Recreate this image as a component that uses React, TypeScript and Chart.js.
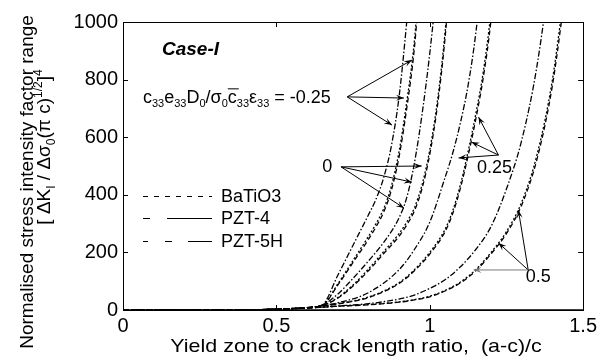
import React, { useEffect, useRef } from "react";
import { Chart, registerables } from "chart.js";
Chart.register(...registerables);

// ---- axis ticks ----
const xTicks = [0, 0.5, 1, 1.5];
const yTicks = [0, 200, 400, 600, 800, 1000];

// ---- curves, parameter c33e33D0/(sigma0 c33 eps33) ----
// -0.25
const xM025 = [0, 0.4, 0.5, 0.6, 0.65, 0.7, 0.75, 0.8, 0.825, 0.85, 0.875, 0.9, 0.925, 0.95, 0.975];
const pzt4M025 = [0, 0, 3, 8, 18, 120, 225, 330, 385, 460, 570, 740, 1000, 1300, 1700];
const batio3M025 = [0, 0, 3, 8, 16, 90, 172, 255, 300, 352, 430, 550, 722, 935, 1270];
const pzt5hM025 = [0, 0, 3, 8, 16, 86, 165, 245, 289, 340, 416, 532, 700, 910, 1240];
// 0
const x0 = [0, 0.4, 0.5, 0.6, 0.65, 0.7, 0.75, 0.8, 0.85, 0.9, 0.925, 0.95, 0.975, 1.0, 1.025, 1.05, 1.075];
const pzt40 = [0, 0, 3, 8, 17, 55, 110, 170, 235, 320, 390, 510, 680, 890, 1150, 1450, 1850];
const batio30 = [0, 0, 3, 8, 16, 43, 87, 142, 203, 265, 305, 355, 435, 555, 725, 965, 1300];
const pzt5h0 = [0, 0, 3, 8, 16, 41, 83, 136, 196, 256, 295, 344, 422, 540, 708, 945, 1270];
// 0.25
const xP025 = [0, 0.4, 0.5, 0.6, 0.65, 0.7, 0.8, 0.9, 0.95, 1.0, 1.05, 1.075, 1.1, 1.125, 1.15, 1.175, 1.2, 1.225];
const pzt4P025 = [0, 0, 3, 8, 15, 25, 60, 140, 210, 305, 460, 545, 650, 780, 960, 1220, 1600, 2000];
const batio3P025 = [0, 0, 3, 8, 14, 22, 45, 95, 140, 200, 280, 345, 435, 550, 680, 830, 1040, 1350];
const pzt5hP025 = [0, 0, 3, 8, 14, 21, 43, 92, 136, 194, 272, 335, 423, 535, 662, 810, 1010, 1320];
// 0.5
const xP05 = [0, 0.4, 0.5, 0.6, 0.7, 0.8, 0.9, 0.95, 1.0, 1.05, 1.1, 1.15, 1.2, 1.25, 1.3, 1.35, 1.4, 1.45];
const pzt4P05 = [0, 0, 3, 7, 14, 22, 38, 52, 75, 105, 150, 210, 290, 420, 590, 850, 1250, 1800];
const batio3P05 = [0, 0, 3, 7, 13, 19, 28, 36, 48, 68, 97, 140, 200, 272, 375, 540, 800, 1200];
const pzt5hP05 = [0, 0, 3, 7, 13, 18, 27, 35, 46, 66, 94, 136, 195, 265, 365, 525, 780, 1170];

const materials = ["BaTiO3", "PZT-4", "PZT-5H"];
const dashBaTiO3 = [2, 2];
const dashPZT4 = [6, 2, 1.5, 2];
const dashPZT5H = [5, 3];

// annotation label positions (data units)
const caseLabel = { x: 0.127, y: 903 };
const formulaPos = { x: 0.065, y: 740 };
const labelM025 = { from: [0.731, 740], to: [[0.942, 868], [0.916, 736], [0.877, 642]] };
const label0 = { text: "0", at: [0.666, 497], from: [0.711, 497], to: [[0.974, 500], [0.942, 444], [0.916, 354]] };
const labelP025 = { text: "0.25", at: [1.211, 493], from: [1.224, 538], to: [[1.159, 670], [1.136, 583], [1.094, 528]] };
const labelP05 = { text: "0.5", at: [1.354, 115], from: [1.321, 139], to: [[1.289, 347], [1.224, 233], [1.143, 139]] };

const FONT = '"Liberation Sans", Arial, Helvetica, sans-serif';

function mk(xs: number[], ys: number[], dash: number[], label: string) {
  return {
    label,
    data: xs.map((x, i) => ({ x, y: ys[i] })),
    borderColor: "#000",
    borderWidth: 1.3,
    borderDash: dash,
    pointRadius: 0,
    fill: false,
    cubicInterpolationMode: "monotone" as const,
  };
}

type Seg = { t: string; s: number; dy: number; over?: boolean };

function drawRich(ctx: CanvasRenderingContext2D, segs: Seg[], x: number, y: number) {
  let cx = x;
  for (const g of segs) {
    ctx.font = `${g.s}px ${FONT}`;
    ctx.fillText(g.t, cx, y + g.dy);
    const w = ctx.measureText(g.t).width;
    if (g.over) {
      ctx.beginPath();
      ctx.lineWidth = 1;
      ctx.moveTo(cx, y - g.s * 0.78);
      ctx.lineTo(cx + w + 2, y - g.s * 0.78);
      ctx.stroke();
    }
    cx += w;
  }
  return cx - x;
}
function richWidth(ctx: CanvasRenderingContext2D, segs: Seg[]) {
  let w = 0;
  for (const g of segs) {
    ctx.font = `${g.s}px ${FONT}`;
    w += ctx.measureText(g.t).width;
  }
  return w;
}

function arrow(ctx: CanvasRenderingContext2D, x1: number, y1: number, x2: number, y2: number, color = "#000") {
  ctx.save();
  ctx.strokeStyle = color;
  ctx.fillStyle = color;
  ctx.lineWidth = 1;
  ctx.setLineDash([]);
  ctx.beginPath();
  ctx.moveTo(x1, y1);
  ctx.lineTo(x2, y2);
  ctx.stroke();
  const a = Math.atan2(y2 - y1, x2 - x1);
  const L = 8, W = 3;
  ctx.beginPath();
  ctx.moveTo(x2, y2);
  ctx.lineTo(x2 - L * Math.cos(a) + W * Math.sin(a), y2 - L * Math.sin(a) - W * Math.cos(a));
  ctx.lineTo(x2 - L * 0.6 * Math.cos(a), y2 - L * 0.6 * Math.sin(a));
  ctx.lineTo(x2 - L * Math.cos(a) - W * Math.sin(a), y2 - L * Math.sin(a) + W * Math.cos(a));
  ctx.closePath();
  ctx.fill();
  ctx.restore();
}

const decor = {
  id: "decor",
  afterDraw(chart: any) {
    const ctx: CanvasRenderingContext2D = chart.ctx;
    const { left, right, top, bottom } = chart.chartArea;
    const xs = chart.scales.x, ys = chart.scales.y;
    const px = (v: number) => xs.getPixelForValue(v);
    const py = (v: number) => ys.getPixelForValue(v);
    ctx.save();
    ctx.strokeStyle = "#000";
    ctx.fillStyle = "#000";
    ctx.setLineDash([]);
    // frame
    ctx.lineWidth = 1;
    ctx.strokeRect(Math.round(left) + 0.5, Math.round(top) + 0.5, Math.round(right - left), Math.round(bottom - top));
    ctx.lineWidth = 1.5;
    ctx.beginPath();
    ctx.moveTo(left, bottom);
    ctx.lineTo(right, bottom);
    ctx.stroke();
    // inner ticks
    ctx.lineWidth = 1;
    ctx.beginPath();
    for (const v of xTicks.slice(1, -1)) {
      const x = Math.round(px(v)) + 0.5;
      ctx.moveTo(x, bottom);
      ctx.lineTo(x, bottom - 5);
      ctx.moveTo(x, top);
      ctx.lineTo(x, top + 5);
    }
    for (const v of yTicks.slice(1, -1)) {
      const y = Math.round(py(v)) + 0.5;
      ctx.moveTo(left, y);
      ctx.lineTo(left + 5, y);
      ctx.moveTo(right, y);
      ctx.lineTo(right - 5, y);
    }
    ctx.stroke();

    // axis titles
    ctx.textBaseline = "alphabetic";
    ctx.save();
    ctx.font = `19px ${FONT}`;
    ctx.translate(356, 352);
    ctx.scale(1.13, 1);
    ctx.textAlign = "center";
    ctx.fillText("Yield zone to crack length ratio,  (a-c)/c", 0, 0);
    ctx.restore();

    ctx.save();
    ctx.translate(33, 182);
    ctx.rotate(-Math.PI / 2);
    ctx.font = `19px ${FONT}`;
    ctx.textAlign = "center";
    ctx.fillText("Normalised stress intensity factor range", 0, 0);
    ctx.restore();

    const yl: Seg[] = [
      { t: "[ \u0394K", s: 19, dy: 0 },
      { t: "I", s: 12, dy: 5 },
      { t: " / \u0394\u03c3", s: 19, dy: 0 },
      { t: "0", s: 12, dy: 5 },
      { t: "(\u03c0 c)", s: 19, dy: 0 },
      { t: "1/2", s: 12, dy: -8 },
      { t: "]", s: 19, dy: 0 },
      { t: "4", s: 12, dy: -8 },
    ];
    ctx.save();
    ctx.translate(50, 147);
    ctx.rotate(-Math.PI / 2);
    ctx.textAlign = "left";
    const w2 = richWidth(ctx, yl);
    drawRich(ctx, yl, -w2 / 2, 0);
    ctx.restore();

    // Case-I
    ctx.font = `italic bold 19px ${FONT}`;
    ctx.textAlign = "left";
    ctx.textBaseline = "middle";
    ctx.fillText("Case-I", px(caseLabel.x), py(caseLabel.y));

    // formula
    ctx.textBaseline = "alphabetic";
    const f: Seg[] = [
      { t: "c", s: 18, dy: 0 },
      { t: "33", s: 11, dy: 4 },
      { t: "e", s: 18, dy: 0 },
      { t: "33", s: 11, dy: 4 },
      { t: "D", s: 18, dy: 0 },
      { t: "0", s: 11, dy: 4 },
      { t: "/\u03c3", s: 18, dy: 0 },
      { t: "0", s: 11, dy: 4 },
      { t: "c", s: 18, dy: 0, over: true },
      { t: "33", s: 11, dy: 4 },
      { t: "\u03b5", s: 18, dy: 0 },
      { t: "33", s: 11, dy: 4 },
      { t: " = -0.25", s: 18, dy: 0 },
    ];
    drawRich(ctx, f, px(formulaPos.x), py(formulaPos.y) + 6);

    // labels + arrows
    ctx.font = `18px ${FONT}`;
    ctx.textBaseline = "middle";
    ctx.textAlign = "center";
    for (const L of [label0, labelP025, labelP05]) {
      ctx.fillText(L.text, px(L.at[0]), py(L.at[1]));
    }
    for (const L of [labelM025, label0, labelP025, labelP05]) {
      L.to.forEach((t, i) => {
        const grey = L === labelP05 && i === 2;
        arrow(ctx, px(L.from[0]), py(L.from[1]), px(t[0]), py(t[1]), grey ? "#777" : "#000");
      });
    }

    // legend (sample segments as drawn in the source figure)
    const rows = [
      { name: materials[0], segs: [[143, 148], [154, 159], [165, 170], [176, 181], [187, 192], [198, 203], [209, 212]], y: 196 },
      { name: materials[1], segs: [[143, 150], [167, 212]], y: 218 },
      { name: materials[2], segs: [[143, 148], [165, 172], [188, 212]], y: 241 },
    ];
    ctx.font = `18px ${FONT}`;
    ctx.textAlign = "left";
    ctx.textBaseline = "middle";
    ctx.lineWidth = 1;
    for (const r of rows) {
      ctx.beginPath();
      for (const s of r.segs) {
        ctx.moveTo(s[0], r.y + 0.5);
        ctx.lineTo(s[1], r.y + 0.5);
      }
      ctx.stroke();
      ctx.fillText(r.name, 221, r.y + 1);
    }
    ctx.restore();
  },
};

export default function App() {
  const ref = useRef<HTMLCanvasElement>(null);
  useEffect(() => {
    document.body.style.margin = "0";
    const canvas = ref.current!;
    const datasets = [
      mk(xM025, batio3M025, dashBaTiO3, "BaTiO3 -0.25"),
      mk(xM025, pzt4M025, dashPZT4, "PZT-4 -0.25"),
      mk(xM025, pzt5hM025, dashPZT5H, "PZT-5H -0.25"),
      mk(x0, batio30, dashBaTiO3, "BaTiO3 0"),
      mk(x0, pzt40, dashPZT4, "PZT-4 0"),
      mk(x0, pzt5h0, dashPZT5H, "PZT-5H 0"),
      mk(xP025, batio3P025, dashBaTiO3, "BaTiO3 0.25"),
      mk(xP025, pzt4P025, dashPZT4, "PZT-4 0.25"),
      mk(xP025, pzt5hP025, dashPZT5H, "PZT-5H 0.25"),
      mk(xP05, batio3P05, dashBaTiO3, "BaTiO3 0.5"),
      mk(xP05, pzt4P05, dashPZT4, "PZT-4 0.5"),
      mk(xP05, pzt5hP05, dashPZT5H, "PZT-5H 0.5"),
    ];
    const tickFont = { family: FONT, size: 20 };
    const chart = new Chart(canvas, {
      type: "line",
      data: { datasets: datasets as any },
      options: {
        animation: false,
        responsive: false,
        devicePixelRatio: 1,
        layout: { padding: { left: 0, top: 22, right: 16, bottom: 0 } },
        plugins: { legend: { display: false }, tooltip: { enabled: false } },
        scales: {
          x: {
            type: "linear",
            min: 0,
            max: 1.5,
            afterBuildTicks: (s: any) => {
              s.ticks = xTicks.map((v) => ({ value: v }));
            },
            afterFit: (s: any) => {
              s.height = 49;
            },
            ticks: { font: tickFont, color: "#000", padding: 4, maxRotation: 0, autoSkip: false, callback: (v: any) => String(v) },
            grid: { display: false, drawTicks: false },
            border: { display: false },
          },
          y: {
            type: "linear",
            min: 0,
            max: 1000,
            afterBuildTicks: (s: any) => {
              s.ticks = yTicks.map((v) => ({ value: v }));
            },
            afterFit: (s: any) => {
              s.width = 123;
            },
            ticks: { font: tickFont, color: "#000", padding: 5, autoSkip: false, callback: (v: any) => String(v) },
            grid: { display: false, drawTicks: false },
            border: { display: false },
          },
        },
      },
      plugins: [decor],
    });
    return () => chart.destroy();
  }, []);
  return (
    <div style={{ width: 601, height: 359, background: "#fff" }}>
      <canvas ref={ref} width={601} height={359} style={{ display: "block" }} />
    </div>
  );
}
